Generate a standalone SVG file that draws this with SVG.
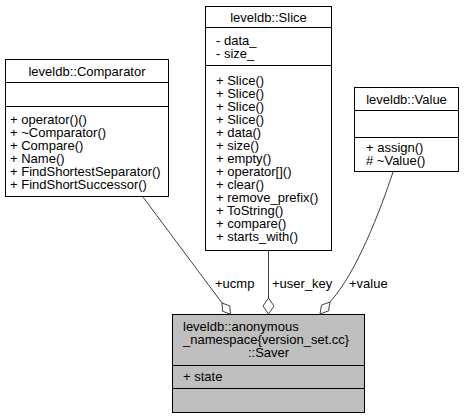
<svg xmlns="http://www.w3.org/2000/svg" width="464" height="419" viewBox="0 0 464 419">
<style>
text{font-family:"Liberation Sans",Arial,Helvetica,sans-serif;font-size:13px;fill:#000}
.c{text-anchor:middle}
.box{fill:#fff;stroke:#000;stroke-width:1}
.sav{fill:#bfbfbf;stroke:#000;stroke-width:1}
.sep{stroke:#000;stroke-width:1}
.edge{fill:none;stroke:#404040;stroke-width:1}
.dia{fill:#fff;stroke:#404040;stroke-width:1}
</style>
<rect width="464" height="419" fill="#fff"/>
<g id="comparator">
<rect class="box" x="5.5" y="59.5" width="163" height="137"/>
<line class="sep" x1="5.5" y1="82.5" x2="168.5" y2="82.5"/>
<line class="sep" x1="5.5" y1="106.5" x2="168.5" y2="106.5"/>
<text class="c" x="87" y="75.5">leveldb::Comparator</text>
<text x="10" y="124">+ operator()()</text>
<text x="10" y="137">+ ~Comparator()</text>
<text x="10" y="150">+ Compare()</text>
<text x="10" y="163">+ Name()</text>
<text x="10" y="176">+ FindShortestSeparator()</text>
<text x="10" y="189">+ FindShortSuccessor()</text>
</g>
<g id="slice">
<rect class="box" x="205.5" y="6.5" width="126" height="244"/>
<line class="sep" x1="205.5" y1="27.5" x2="331.5" y2="27.5"/>
<line class="sep" x1="205.5" y1="65.5" x2="331.5" y2="65.5"/>
<text class="c" x="268.5" y="21.5">leveldb::Slice</text>
<text x="216" y="44.5">- data_</text>
<text x="216" y="57.5">- size_</text>
<text x="216" y="84.5">+ Slice()</text>
<text x="216" y="97.5">+ Slice()</text>
<text x="216" y="110.5">+ Slice()</text>
<text x="216" y="123.5">+ Slice()</text>
<text x="216" y="136.5">+ data()</text>
<text x="216" y="149.5">+ size()</text>
<text x="216" y="162.5">+ empty()</text>
<text x="216" y="175.5">+ operator[]()</text>
<text x="216" y="188.5">+ clear()</text>
<text x="216" y="201.5">+ remove_prefix()</text>
<text x="216" y="214.5">+ ToString()</text>
<text x="216" y="227.5">+ compare()</text>
<text x="216" y="240.5">+ starts_with()</text>
</g>
<g id="value">
<rect class="box" x="354.5" y="87.5" width="104" height="84"/>
<line class="sep" x1="354.5" y1="110.5" x2="458.5" y2="110.5"/>
<line class="sep" x1="354.5" y1="137.5" x2="458.5" y2="137.5"/>
<text class="c" x="406.5" y="103.5">leveldb::Value</text>
<text x="366" y="152">+ assign()</text>
<text x="366" y="165"># ~Value()</text>
</g>
<g id="saver">
<rect class="sav" x="172.5" y="314.5" width="192" height="98"/>
<line class="sep" x1="172.5" y1="365.5" x2="364.5" y2="365.5"/>
<line class="sep" x1="172.5" y1="388.5" x2="364.5" y2="388.5"/>
<text x="183" y="331">leveldb::anonymous</text>
<text x="183" y="344">_namespace{version_set.cc}</text>
<text class="c" x="268.5" y="357">::Saver</text>
<text x="183" y="381">+ state</text>
</g>
<g id="connectors">
<path class="edge" d="M143,197 L222,303"/>
<path class="dia" d="M230.4,314.2 L229.8,305.9 L222,303 L222.6,311.3 Z"/>
<path class="edge" d="M268.5,251 L268.5,298"/>
<path class="dia" d="M268.5,298 L274,306 L268.5,314 L263,306 Z"/>
<path class="edge" d="M393,172 C380,211 357,272 330,302"/>
<path class="dia" d="M320,314 L321.5,305.1 L330,302 L328.5,310.9 Z"/>
<text x="215" y="287.5">+ucmp</text>
<text x="272" y="287.5">+user_key</text>
<text x="349" y="287.5">+value</text>
</g>
</svg>
